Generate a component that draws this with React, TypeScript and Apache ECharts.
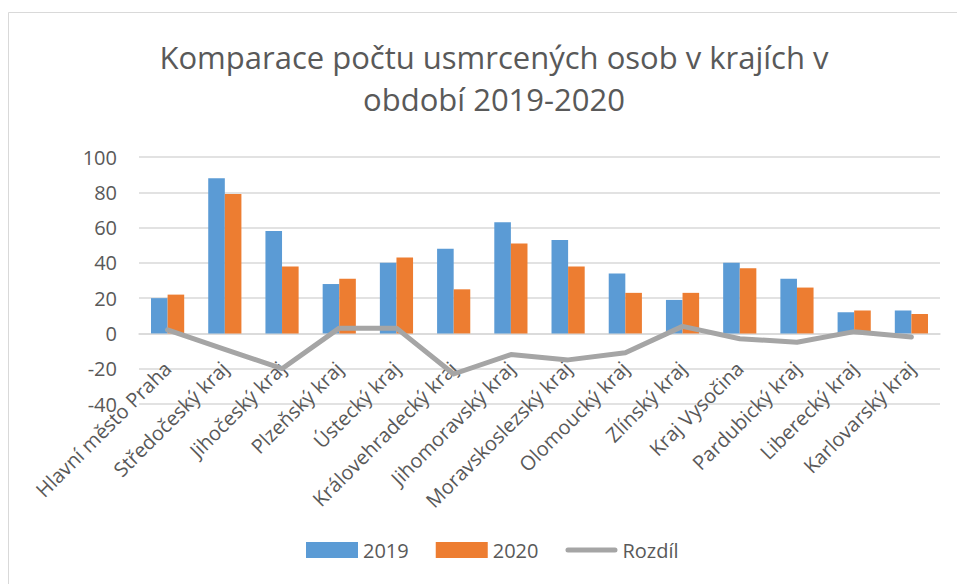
import React, { useEffect, useRef } from "react";
import * as echarts from "echarts";

const categories = [
  "Hlavní město Praha",
  "Středočeský kraj",
  "Jihočeský kraj",
  "Plzeňský kraj",
  "Ústecký kraj",
  "Královehradecký kraj",
  "Jihomoravský kraj",
  "Moravskoslezský kraj",
  "Olomoucký kraj",
  "Zlínský kraj",
  "Kraj Vysočina",
  "Pardubický kraj",
  "Liberecký kraj",
  "Karlovarský kraj",
];
const values2019 = [20, 88, 58, 28, 40, 48, 63, 53, 34, 19, 40, 31, 12, 13];
const values2020 = [22, 79, 38, 31, 43, 25, 51, 38, 23, 23, 37, 26, 13, 11];
const rozdil = [2, -9, -20, 3, 3, -23, -12, -15, -11, 4, -3, -5, 1, -2];

const FONT = "'Open Sans', 'Noto Sans', sans-serif";
const TXT = "#595959";
const LINE_ICON =
  "path://M0,0h0.05v0.05h-0.05Z M2.5,5.5H49.5A2.5,2.5,0,0,1,49.5,10.5H2.5A2.5,2.5,0,0,1,2.5,5.5Z M0,15.95h0.05v0.05h-0.05Z";

export default function App() {
  const ref = useRef<HTMLDivElement>(null);
  useEffect(() => {
    if (!ref.current) return;
    const chart = echarts.init(ref.current, undefined, { renderer: "svg" });
    chart.setOption({
      animation: false,
      backgroundColor: "#ffffff",
      title: {
        text: "Komparace počtu usmrcených osob v krajích v\nobdobí 2019-2020",
        left: 489,
        top: 31,
        textAlign: "center",
        textStyle: {
          fontFamily: FONT,
          fontSize: 31,
          fontWeight: "normal",
          color: TXT,
          lineHeight: 42,
          align: "center",
        },
      },
      graphic: [
        {
          type: "rect",
          shape: { x: 8.5, y: 12.5, width: 1000, height: 700 },
          style: { fill: "none", stroke: "#D9D9D9", lineWidth: 1 },
          silent: true,
        },
      ],
      legend: {
        left: 306,
        top: 540,
        padding: 0,
        itemWidth: 52,
        itemHeight: 16,
        itemGap: 27,
        textStyle: { fontFamily: FONT, fontSize: 20, color: TXT },
        data: [
          { name: "2019", icon: "rect" },
          { name: "2020", icon: "rect" },
          { name: "Rozdíl", icon: LINE_ICON },
        ],
      },
      grid: { left: 139, right: 17, top: 157, bottom: 180 },
      xAxis: {
        type: "category",
        data: categories,
        axisLine: { show: true, onZero: true, lineStyle: { color: "#D9D9D9", width: 1.5 } },
        axisTick: { show: false },
        axisLabel: {
          rotate: 45,
          interval: 0,
          margin: -39,
          fontFamily: FONT,
          fontSize: 20,
          color: TXT,
        },
      },
      yAxis: {
        type: "value",
        min: -40,
        max: 100,
        interval: 20,
        axisLine: { show: false },
        axisTick: { show: false },
        splitLine: { lineStyle: { color: "#D9D9D9", width: 1.5 } },
        axisLabel: { fontFamily: FONT, fontSize: 20, color: TXT, margin: 22 },
      },
      series: [
        {
          name: "2019",
          type: "bar",
          data: values2019,
          itemStyle: { color: "#5B9BD5" },
          barGap: "0%",
          barCategoryGap: "42%",
        },
        {
          name: "2020",
          type: "bar",
          data: values2020,
          itemStyle: { color: "#ED7D31" },
        },
        {
          name: "Rozdíl",
          type: "line",
          data: rozdil,
          symbol: "none",
          z: 5,
          lineStyle: { color: "#A5A5A5", width: 5, cap: "round", join: "round" },
          itemStyle: { color: "#A5A5A5" },
        },
      ],
    });
    return () => chart.dispose();
  }, []);
  return (
    <div
      ref={ref}
      style={{ position: "fixed", left: 0, top: 0, width: 957, height: 584 }}
    />
  );
}
